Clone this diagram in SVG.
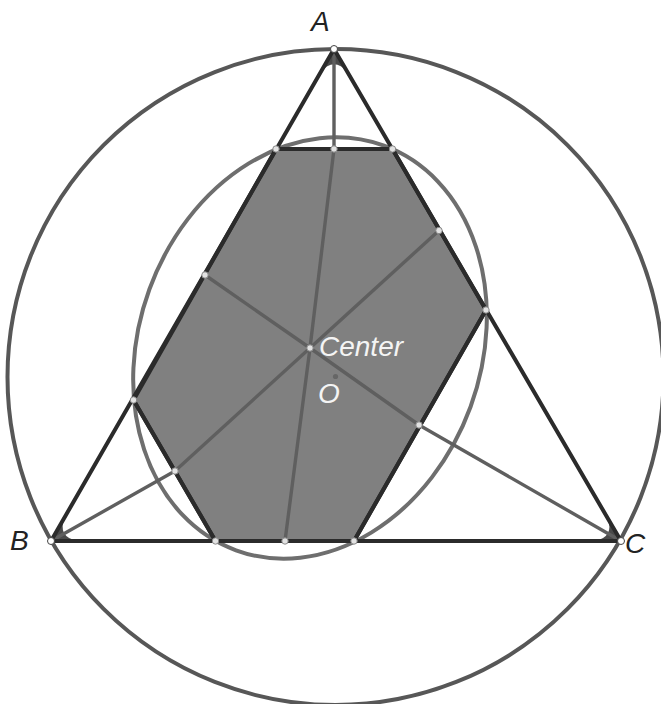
<svg xmlns="http://www.w3.org/2000/svg" width="661" height="704" viewBox="0 0 661 704">
<style>
.lbl{font-family:"Liberation Sans",Arial,sans-serif;font-style:italic;font-size:28px}
.dark{fill:#222}
.light{fill:#f4f4f4}
.side{stroke:#2b2b2b;stroke-width:4;fill:none;stroke-linecap:round;stroke-linejoin:round}
.hex{fill:#808080;stroke:#2b2b2b;stroke-width:4;stroke-linejoin:round}
.ray{stroke:#5f5f5f;stroke-width:3.4;fill:none;stroke-linecap:round;stroke-linejoin:round}
.dot{fill:#e2e2e2;stroke:#8a8a8a;stroke-width:1}
.vdot{fill:#fff;stroke:#444;stroke-width:1}
.ang{fill:#4a4a4a}
</style>
<rect width="661" height="704" fill="#fff"/>
<g id="circumcircle">
<circle cx="335.5" cy="377" r="328" fill="none" stroke="#575757" stroke-width="4"/>
</g>
<g id="ellipse">
<ellipse cx="310" cy="348" rx="171" ry="215.4" transform="rotate(20.1 310 348)" fill="none" stroke="#6e6e6e" stroke-width="4"/>
</g>
<g id="hexagon">
<polygon class="hex" points="276,149 392.5,149 486,310 354,541 215.5,541 133.5,400"/>
</g>
<g id="angles">
<path class="ang" d="M334,49 L320.5,72.4 Q334,56 347.6,72.3 Z"/>
<path class="ang" d="M51,541 L64.5,517.6 Q57.1,537.5 78,541 Z"/>
<path class="ang" d="M621,541 L607.4,517.7 Q614.9,537.5 594,541 Z"/>
</g>
<g id="connectors">
<polyline class="ray" points="334,49 334,149 310,348"/>
<polyline class="ray" points="51,541 175,471 310,348"/>
<polyline class="ray" points="621,541 419,425 310,348"/>
<line class="ray" x1="310" y1="348" x2="205" y2="275"/>
<line class="ray" x1="310" y1="348" x2="439" y2="230.5"/>
<line class="ray" x1="310" y1="348" x2="285" y2="541"/>
</g>
<g id="triangle">
<polygon class="side" points="334,49 51,541 621,541"/>
<line class="side" x1="276" y1="149" x2="392.5" y2="149"/>
<line class="side" x1="486" y1="310" x2="354" y2="541"/>
<line class="side" x1="215.5" y1="541" x2="133.5" y2="400"/>
</g>
<g id="points">
<circle class="vdot" cx="334" cy="49" r="3.5"/>
<circle class="vdot" cx="51" cy="541" r="3.5"/>
<circle class="vdot" cx="621" cy="541" r="3.5"/>
<circle class="dot" cx="276" cy="149" r="3.2"/>
<circle class="dot" cx="334" cy="149" r="3.2"/>
<circle class="dot" cx="392.5" cy="149" r="3.2"/>
<circle class="dot" cx="439" cy="230.5" r="3.2"/>
<circle class="dot" cx="486" cy="310" r="3.2"/>
<circle class="dot" cx="419" cy="425" r="3.2"/>
<circle class="dot" cx="354" cy="541" r="3.2"/>
<circle class="dot" cx="285" cy="541" r="3.2"/>
<circle class="dot" cx="215.5" cy="541" r="3.2"/>
<circle class="dot" cx="175" cy="471" r="3.2"/>
<circle class="dot" cx="133.5" cy="400" r="3.2"/>
<circle class="dot" cx="205" cy="275" r="3.2"/>
<circle class="dot" cx="310" cy="348" r="3.2"/>
<circle cx="335.5" cy="376.5" r="2.6" fill="#666"/>
</g>
<g id="labels">
<text class="lbl dark" x="311" y="31">A</text>
<text class="lbl dark" x="10" y="550">B</text>
<text class="lbl dark" x="625" y="553">C</text>
<text class="lbl light" x="319" y="356">Center</text>
<text class="lbl light" x="318" y="403">O</text>
</g>
</svg>
